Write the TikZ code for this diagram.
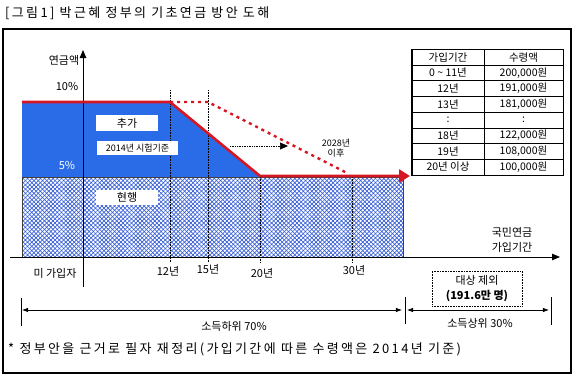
\documentclass[tikz,border=0pt]{standalone}
\usepackage{fontspec}
\setmainfont{Noto Sans CJK KR}
\newfontfamily\spacedfont[LetterSpace=18]{Noto Sans CJK KR}
\usetikzlibrary{positioning,arrows.meta,patterns.meta}
\definecolor{barBlue}{RGB}{42,108,232}
\definecolor{lineRed}{RGB}{215,22,35}
\definecolor{hatchBlue}{RGB}{55,95,215}

\begin{document}
\begin{tikzpicture}[
  x=1pt, y=-1pt,
  font=\fontsize{11}{12}\selectfont,
  >=Latex,
  lbl/.style={inner sep=0pt, align=center},
  tag/.style={fill=white, inner sep=0pt, align=center},
  cell/.style={draw, line width=0.5pt, minimum height=15.7pt, inner sep=0pt,
               font=\fontsize{10.5}{12}\selectfont},
  guide/.style={densely dotted, line width=0.6pt},
  redline/.style={lineRed, line width=2.6pt},
]
  \useasboundingbox (0,0) rectangle (575,380);

  % title and frame
  \node[anchor=west, inner sep=0pt, font=\fontsize{13}{14}\spacedfont] (title) at (5,13)
       {[그림1] 박근혜 정부의 기초연금 방안 도해};
  \draw[line width=1.1pt] (3,29) rectangle (571,373);

  % areas
  \fill[barBlue] (22,102) -- (170,102) -- (260,177) -- (22,177) -- cycle;
  \fill[pattern={Lines[angle=45,distance=3pt,line width=0.7pt]}, pattern color=hatchBlue]
       (22,177) rectangle (403,257);
  \fill[pattern={Lines[angle=-45,distance=3pt,line width=0.7pt]}, pattern color=hatchBlue]
       (22,177) rectangle (403,257);
  \draw[line width=0.5pt, black!75] (22,177) rectangle (403,257);

  % guides for 12, 15, 20 and 30 years
  \draw[guide] (170,90) -- (170,262);
  \draw[guide] (208,90) -- (208,262);
  \draw[guide] (260,177) -- (260,262);
  \draw[guide] (352,177) -- (352,262);

  % axes
  \coordinate (yBot) at (83,287);
  \coordinate (yTop) at (83,50);
  \coordinate (xLeft) at (10,257);
  \coordinate (xRight) at (560,257);
  \draw[line width=0.8pt, -{Triangle[length=8pt,width=6.5pt]}] (yBot) -- (yTop);
  \draw[line width=0.8pt, -{Triangle[length=8pt,width=6.5pt]}] (xLeft) -- (xRight);

  % amount lines
  \coordinate (rA) at (22,102);
  \coordinate (rB) at (170,102);
  \coordinate (rC) at (260,176);
  \coordinate (rEnd) at (410,176);
  \coordinate (dB) at (208,102);
  \coordinate (dEnd) at (347,173);
  \draw[lineRed, line width=2.4pt, dash pattern=on 3pt off 4pt] (rB) -- (dB) -- (dEnd);
  \draw[redline, -{Triangle[length=11pt,width=13pt]}] (rA) -- (rB) -- (rC) -- (rEnd);

  \coordinate (shiftA) at (230,146);
  \coordinate (shiftB) at (288,146);
  \draw[densely dotted, line width=0.7pt, -{Triangle[length=8pt,width=7pt]}] (shiftA) -- (shiftB);

  % labels on the chart
  \node[lbl] (yName) at (64,60) {연금액};
  \node[lbl] (p10) at (67,86) {10\%};
  \node[lbl, text=white] (p5) at (67,165) {5\%};
  \node[tag, minimum width=62pt, minimum height=16pt] (add) at (127,123) {추가};
  \node[tag, minimum width=81pt, minimum height=14pt, font=\fontsize{9}{10}\selectfont]
       (trial) at (137.5,148) {2014년 시험기준};
  \node[tag, minimum width=62pt, minimum height=15pt] (now) at (127,197.5) {현행};
  \node[lbl, font=\fontsize{9}{10.5}\selectfont] (after) at (336,148) {2028년\\이후};

  \node[lbl] (none) at (55,273) {미 가입자};
  \node[lbl] (y12) at (168,271) {12년};
  \node[lbl] (y15) at (208,269) {15년};
  \node[lbl] (y20) at (262,273) {20년};
  \node[lbl] (y30) at (354,270) {30년};
  \node[lbl, font=\fontsize{11}{15}\selectfont] (xName) at (512,240) {국민연금\\가입기간};

  % table of amounts
  \foreach \a/\b [count=\i] in {가입기간/수령액, 0 \textasciitilde{} 11년/{200,000원},
      12년/{191,000원}, 13년/{181,000원}, :/:, 18년/{122,000원},
      19년/{108,000원}, 20년 이상/{100,000원}}{
    \node[cell, minimum width=72pt] (ta\i) at (448,{49.3+15.7*(\i-0.5)}) {\a};
    \node[cell, minimum width=79pt] (tb\i) at (523.5,{49.3+15.7*(\i-0.5)}) {\b};
  }
  \draw[line width=1pt] (ta1.north west) rectangle (tb8.south east);

  % income groups
  \node[draw, densely dotted, line width=0.6pt, minimum width=90pt, minimum height=35pt,
        inner sep=0pt, align=center, font=\fontsize{11}{15}\selectfont] (excl) at (477,288.5)
       {대상 제외\\\textbf{(191.6만 명)}};
  \coordinate (gL) at (21,310);
  \coordinate (gM) at (405,310);
  \coordinate (gR) at (551,310);
  \draw[line width=0.8pt] (21,298) -- (21,326);
  \draw[line width=0.8pt] (405,297) -- (405,324);
  \draw[line width=0.8pt] (551,297) -- (551,325);
  \draw[<->, line width=0.7pt, shorten <=1pt, shorten >=3pt] (gL) -- (gM);
  \draw[<->, line width=0.7pt, shorten <=2pt, shorten >=2pt] (gM) -- (gR);
  \node[lbl] (low) at (234,326) {소득하위 70\%};
  \node[lbl] (high) at (480,323) {소득상위 30\%};

  % source note
  \node[anchor=west, inner sep=0pt, font=\fontsize{13}{14}\spacedfont] (note) at (8,349)
       {* 정부안을 근거로 필자 재정리(가입기간에 따른 수령액은 2014년 기준)};
\end{tikzpicture}
\end{document}
